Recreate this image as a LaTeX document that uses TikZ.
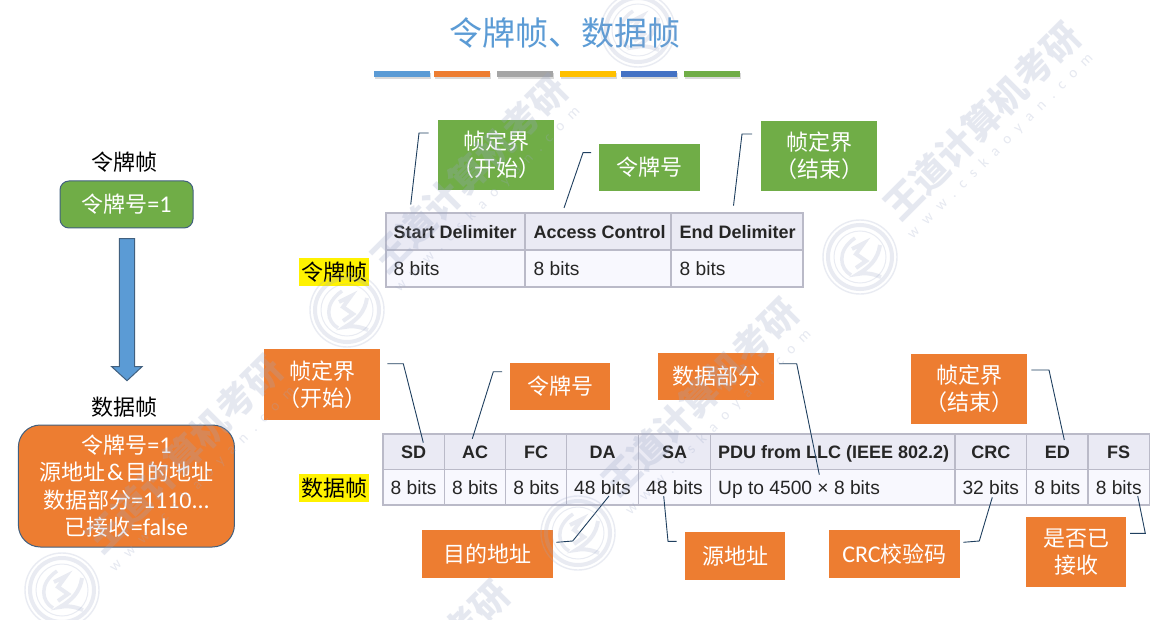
\documentclass[tikz,border=0pt]{standalone}
\usepackage{fontspec}
\setmainfont{Noto Sans CJK SC}
\newfontfamily\latinf{Carlito}
\newfontfamily\wmfont[LetterSpace=60]{Carlito}
\newfontfamily\tablef{Liberation Sans}
\usetikzlibrary{arrows.meta,calc}
\definecolor{cgreen}{HTML}{70AD47}
\definecolor{corange}{HTML}{ED7D31}
\definecolor{cblue}{HTML}{5B9BD5}
\definecolor{cgray}{HTML}{A5A5A5}
\definecolor{cgold}{HTML}{FFC000}
\definecolor{cdblue}{HTML}{4472C4}
\definecolor{cline}{HTML}{1F3F5F}
\definecolor{cedge}{HTML}{41607F}
\definecolor{tgrid}{HTML}{BABAC8}
\definecolor{thead}{HTML}{EAEAF4}
\definecolor{tbody}{HTML}{F8F8FE}
\definecolor{wm}{HTML}{9BA7C7}
\tikzset{
  x=1pt,y=-1pt,
  tag/.style={inner sep=0,align=center,text=white,font=\fontsize{22}{27}\selectfont},
  greentag/.style={tag,fill=cgreen},
  orangetag/.style={tag,fill=corange},
  callout/.style={draw=cline,line width=.9},
  cellh/.style={font=\tablef\fontsize{18}{20}\selectfont\bfseries,text=black!85,inner sep=0,text height=14,text depth=4},
  cellb/.style={font=\tablef\fontsize{19.2}{20}\selectfont,text=black!85,inner sep=0,text height=14,text depth=4},
  grid/.style={draw=tgrid,line width=1.2},
  hl/.style={fill=yellow,inner sep=0,minimum width=70,minimum height=28,font=\fontsize{22}{24}\selectfont},
  plain/.style={inner sep=0,font=\fontsize{22}{24}\selectfont},
  bar/.style={minimum height=6,minimum width=56,inner sep=0},
  wmbig/.style={rotate=45,text=wm,text opacity=.25,font=\bfseries\fontsize{37}{37}\selectfont,anchor=west,inner sep=0},
  wmsmall/.style={rotate=45,text=wm,text opacity=.25,font=\wmfont\fontsize{15}{15}\selectfont,anchor=west,inner sep=0},
  wmring/.style={draw=wm,draw opacity=.22}
}
\newcommand{\wmlogo}[2]{%
  \begin{scope}[shift={(#1,#2)}]
    \draw[wmring,line width=1.4] (0,0) circle (37);
    \draw[wmring,line width=4] (0,0) circle (32);
    \draw[wmring,line width=1] (0,0) circle (26);
    \draw[wmring,line width=3.5] (-5,-19) .. controls (-24,-6) and (-20,12) .. (-9,18);
    \draw[wmring,line width=4] (-8,-8) -- (4,-14) -- (-4,-3) -- (6,4) -- (-4,11);
    \draw[wmring,line width=4] (20,-12) .. controls (18,2) and (10,10) .. (-2,17) .. controls (8,15) and (16,18) .. (21,20);
  \end{scope}}
\newcommand{\wmtext}[2]{%
  \node[wmbig] at (#1+30,#2-44) {王道计算机考研};
  \node[wmsmall] at (#1+50,#2-20) {www.cskaoyan.com};}
\newcommand{\boxat}[6]{\node[#1,minimum width=#4-#3,minimum height=#6-#5] (#2) at ({(#3+#4)/2},{(#5+#6)/2})}
\begin{document}
\begin{tikzpicture}
\useasboundingbox (0,0) rectangle (1158,620);
\fill[white] (0,0) rectangle (1158,620);
\clip (0,0) rectangle (1158,620);
% title
\node[text=cblue,font=\fontsize{33}{36}\selectfont,inner sep=0] (title) at (565,33) {令牌帧、数据帧};
\foreach \n/\xa/\c in {a/374/cblue,b/434/corange,c/497/cgray,d/560/cgold,e/621/cdblue,f/684/cgreen}{
  \fill[black!15] (\xa+1,73) rectangle (\xa+57,79);
  \node[bar,fill=\c,anchor=north west] (bar\n) at (\xa,71) {};
}
% left column
\node[plain] (lt) at (124,162) {令牌帧};
\node[draw=cedge,line width=1,fill=cgreen,rounded corners=9,minimum width=133,minimum height=47,inner sep=0,text=white,font=\fontsize{22}{24}\selectfont] (tok) at (126.5,204.5) {令牌号{\latinf\fontsize{24}{24}\selectfont =1}};
\draw[draw=cedge,line width=1,fill=cblue] (119.3,238.7) -- (134.7,238.7) -- (134.7,366.7) -- (142,366.7) -- (127,380.7) -- (111.7,366.7) -- (119.3,366.7) -- cycle;
\node[plain] (ld) at (124,407) {数据帧};
\node[draw=cedge,line width=1,fill=corange,rounded corners=22,minimum width=216,minimum height=122,inner sep=0,text=white,align=center,font=\fontsize{22}{27.5}\selectfont] (dat) at (126.4,486) {令牌号{\latinf\fontsize{24}{27.5}\selectfont =1}\\源地址{\latinf\fontsize{24}{27.5}\selectfont\hspace{1.5pt}\&\hspace{1.5pt}}目的地址\\数据部分{\latinf\fontsize{24}{27.5}\selectfont =1110...}\\已接收{\latinf\fontsize{24}{27.5}\selectfont =false}};
% highlighted labels
\node[hl] (ht) at (334,272) {令牌帧};
\node[hl] (hd) at (334,488) {数据帧};
% upper table
\fill[thead] (386,213) rectangle (803,250);
\fill[tbody] (386,250) rectangle (803,287);
\draw[grid] (386,213) rectangle (803,287);
\draw[grid] (386,250) -- (803,250);
\draw[grid] (525,213) -- (525,287);
\draw[grid] (671,213) -- (671,287);
\node[cellh,anchor=west] (u1) at (393.5,233.5) {Start Delimiter};
\node[cellh,anchor=west] (u2) at (533.5,233.5) {Access Control};
\node[cellh,anchor=west] (u3) at (679.5,233.5) {End Delimiter};
\node[cellb,anchor=west] (v1) at (393.5,270.5) {8 bits};
\node[cellb,anchor=west] (v2) at (533.5,270.5) {8 bits};
\node[cellb,anchor=west] (v3) at (679.5,270.5) {8 bits};
% lower table
\fill[thead] (383,434) rectangle (1149.5,469.5);
\fill[tbody] (383,469.5) rectangle (1149.5,505);
\draw[grid] (383,434) rectangle (1149.5,505);
\draw[grid] (383,469.5) -- (1149.5,469.5);
\foreach \xa in {444.3,505.7,566.7,638.3,710.7,955,1026.7,1088}{\draw[grid] (\xa,434) -- (\xa,505);}
\foreach \n/\cx/\t in {sd/413.6/SD,ac/475/AC,fc/536.2/FC,da/602.5/DA,sa/674.5/SA,crc/990.8/CRC,ed/1057.3/ED,fs/1118.7/FS}{
  \node[cellh] (h\n) at (\cx,453) {\t};
}
\node[cellh,anchor=west] (hpdu) at (718,453) {PDU from LLC (IEEE 802.2)};
\foreach \n/\cx/\t in {sd/413.6/8 bits,ac/475/8 bits,fc/536.2/8 bits,da/602.5/48 bits,sa/674.5/48 bits,crc/990.8/32 bits,ed/1057.3/8 bits,fs/1118.7/8 bits}{
  \node[cellb] (b\n) at (\cx,489) {\t};
}
\node[cellb,anchor=west] (bpdu) at (718,489) {Up to 4500 × 8 bits};
% green tags
\boxat{greentag}{g1}{438}{554}{120}{190} {帧定界\\（开始）};
\boxat{greentag}{g2}{599}{700}{144}{191} {令牌号};
\boxat{greentag}{g3}{761}{877}{121}{191} {帧定界\\（结束）};
% orange tags
\boxat{orangetag}{o1}{264}{380}{349}{420} {帧定界\\（开始）};
\boxat{orangetag}{o2}{510}{610}{363}{410} {令牌号};
\boxat{orangetag}{o3}{658}{774}{353}{400} {数据部分};
\boxat{orangetag}{o4}{911}{1027}{354}{424} {帧定界\\（结束）};
\boxat{orangetag}{o5}{422}{553}{530}{578} {目的地址};
\boxat{orangetag}{o6}{685}{785}{532}{580} {源地址};
\boxat{orangetag}{o7}{829}{960}{530}{578} {{\latinf\fontsize{24}{27}\selectfont CRC}校验码};
\boxat{orangetag}{o8}{1026}{1126}{517}{587} {是否已\\接收};
% callouts
\coordinate (a1) at (428.6,133); \coordinate (e1) at (410.7,204.7);
\coordinate (a2) at (591,152.7); \coordinate (e2) at (564,208);
\coordinate (a3) at (752,134);   \coordinate (e3) at (733.5,205.7);
\draw[callout] (a1) -- (419,133) -- (e1);
\draw[callout] (a2) -- (583,152.7) -- (e2);
\draw[callout] (a3) -- (742,134) -- (e3);
\coordinate (s1) at (387.3,363.7);  \coordinate (f1) at (423.3,442.7);
\coordinate (s2) at (502,371.7);    \coordinate (f2) at (472.3,438.7);
\coordinate (s3) at (556.3,542.3);  \coordinate (f3) at (609,496);
\coordinate (s4) at (676.7,541.3);  \coordinate (f4) at (663.7,496);
\coordinate (s5) at (779,363.7);    \coordinate (f5) at (819.3,474.7);
\coordinate (s6) at (963.3,542.3);  \coordinate (f6) at (992.3,497.3);
\coordinate (s7) at (1031.3,370);   \coordinate (f7) at (1064.3,440);
\coordinate (s8) at (1130,533.3);   \coordinate (f8) at (1137.7,496);
\draw[callout] (s1) -- (403.3,363.7) -- (f1);
\draw[callout] (s2) -- (493.3,371.7) -- (f2);
\draw[callout] (s3) -- (572.7,541) -- (f3);
\draw[callout] (s4) -- (668,541.3) -- (f4);
\draw[callout] (s5) -- (796.7,363.7) -- (f5);
\draw[callout] (s6) -- (979.3,541) -- (f6);
\draw[callout] (s7) -- (1049,370) -- (f7);
\draw[callout] (s8) -- (1145.3,533.3) -- (f8);
% watermark
\wmlogo{860}{257}\wmtext{860}{257}
\wmlogo{347}{310}\wmtext{347}{310}
\wmlogo{62}{590}\wmtext{62}{590}
\wmlogo{578}{533}\wmtext{578}{533}
\wmlogo{638}{30}
\node[wmbig] at (450,640) {考研};
\end{tikzpicture}
\end{document}
